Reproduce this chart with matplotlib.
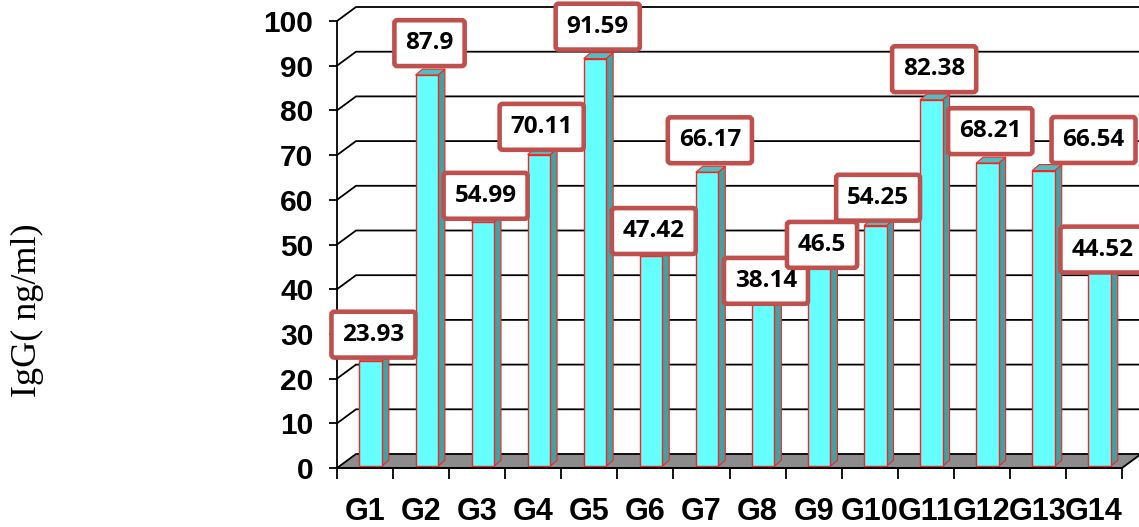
import numpy as np
import matplotlib.pyplot as plt
from matplotlib.patches import Polygon

# data
groups = ['G1', 'G2', 'G3', 'G4', 'G5', 'G6', 'G7', 'G8', 'G9', 'G10', 'G11', 'G12', 'G13', 'G14']
igg = [23.93, 87.9, 54.99, 70.11, 91.59, 47.42, 66.17, 38.14, 46.5, 54.25, 82.38, 68.21, 66.54, 44.52]
y_ticks = list(range(0, 101, 10))

# label box offsets above each bar (points)
label_dy = [19, 23, 19, 20, 23, 18, 23, 12, 11, 20, 22, 23, 22, 14]
label_dx = [0, 0, 0, 0, 0, 0, 0, 0, 0, 0, 0, 0, 34, 0]

W, H = 1139, 527
fig = plt.figure(figsize=(W / 100, H / 100), dpi=100)
ax = fig.add_axes([337 / W, 59 / H, 785 / W, 447 / H])
n = len(groups)
ax.set_xlim(0, n)
ax.set_ylim(0, 100)

# pixel -> data helpers for the fake 3d depth
px_x = n / 785.0
px_y = 100 / 447.0
DX, DY = 19 * px_x, 14 * px_y          # floor / wall depth
bdx, bdy = 7 * px_x, 6 * px_y          # bar depth

# back wall gridlines with left-wall diagonals
for v in y_ticks[1:]:
    ax.plot([0, DX, n + 1], [v, v + DY, v + DY], color='black', lw=1.3,
            clip_on=False, zorder=1)

# floor
floor = Polygon([(0, 0), (n, 0), (n + DX, DY), (DX, DY)], closed=True,
                facecolor='#8c8c8c', edgecolor='black', lw=1.3, clip_on=False, zorder=2)
ax.add_patch(floor)

# bars
x0 = np.arange(n) + 0.40
bw = 0.40
base = 0.4
for xi, v in zip(x0, igg):
    x1 = xi + bw
    side = Polygon([(x1, base), (x1 + bdx, base + bdy), (x1 + bdx, v + bdy), (x1, v)],
                   closed=True, facecolor='#3fa3a3', edgecolor='#ff2020', lw=0.8,
                   clip_on=False, zorder=3)
    top = Polygon([(xi, v), (x1, v), (x1 + bdx, v + bdy), (xi + bdx, v + bdy)],
                  closed=True, facecolor='#4cc0c0', edgecolor='#ff2020', lw=0.8,
                  clip_on=False, zorder=3)
    ax.add_patch(side)
    ax.add_patch(top)
ax.bar(x0, np.array(igg) - base, bottom=base, width=bw, align='edge', color='#66ffff',
       edgecolor='#ff2020', lw=1.0, zorder=4, clip_on=False)

# value labels
for i, v in enumerate(igg):
    ax.annotate(f'{v}', xy=(i + 0.65, v), xytext=(label_dx[i], label_dy[i]),
                textcoords='offset points', ha='center', va='center',
                fontsize=17.5, fontweight='bold', family='Open Sans', zorder=6,
                bbox=dict(boxstyle='round,pad=0.45,rounding_size=0.12', fc='white',
                          ec='#c0504d', lw=3.3))

# axes
for s in ['top', 'right']:
    ax.spines[s].set_visible(False)
ax.spines['left'].set_linewidth(1.3)
ax.spines['bottom'].set_linewidth(1.3)
ax.spines['left'].set_zorder(5)
ax.spines['bottom'].set_zorder(5)
ax.set_yticks(y_ticks)
ax.set_yticklabels([str(t) for t in y_ticks], fontsize=21.5, fontweight='bold',
                   family='Liberation Sans')
ax.tick_params(axis='y', length=6, width=1.3, pad=11)

ax.set_xticks(np.arange(n + 1))
ax.set_xticklabels([])
ax.tick_params(axis='x', which='major', length=8, width=1.3)
ax.set_xticks(np.arange(n) + 0.5, minor=True)
ax.set_xticklabels(groups, minor=True, fontsize=22, fontweight='bold',
                   family='Liberation Sans')
ax.tick_params(axis='x', which='minor', length=0, pad=21)
ax.patch.set_visible(False)

fig.text(27 / W, 1 - 310 / H, 'IgG( ng/ml)', rotation=90, ha='center', va='center',
         family='Liberation Serif', fontsize=26)

plt.savefig('out.png', dpi=100)
